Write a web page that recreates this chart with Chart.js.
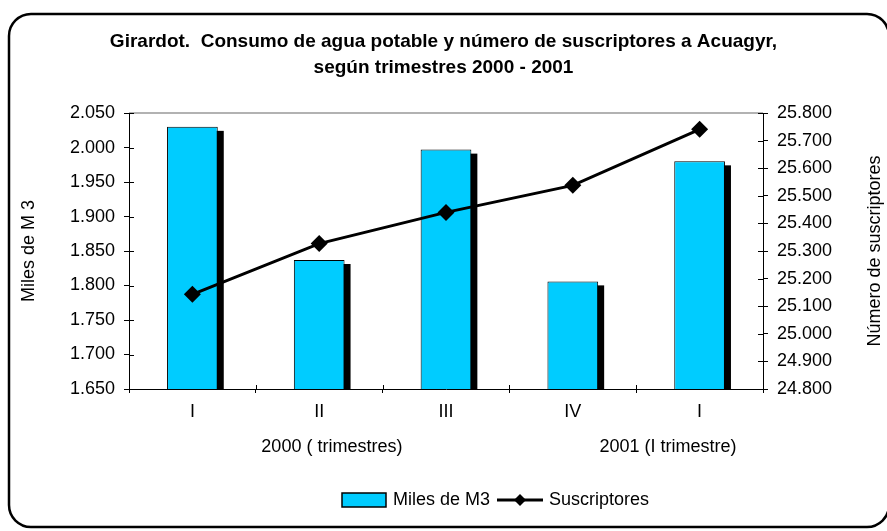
<!DOCTYPE html>
<html>
<head>
<meta charset="utf-8">
<script src="https://cdn.jsdelivr.net/npm/chart.js@4.4.0/dist/chart.umd.min.js"></script>
<style>
  html, body { margin: 0; padding: 0; background: #fff; }
  #marco { width: 887px; height: 531px; }
</style>
</head>
<body>
<div id="marco"><canvas id="grafico"></canvas></div>
<script>
// Datos
const trimestres = ['I', 'II', 'III', 'IV', 'I'];
const milesM3 = [2030, 1837, 1997, 1806, 1980];
const suscriptores = [25143, 25327, 25440, 25538, 25741];
const ticksM3 = [1650, 1700, 1750, 1800, 1850, 1900, 1950, 2000, 2050];
const ticksSusc = [24800, 24900, 25000, 25100, 25200, 25300, 25400, 25500, 25600, 25700, 25800];
const grupos = ['2000 ( trimestres)', '2001 (I trimestre)'];

const FUENTE = "'Liberation Sans', Arial, sans-serif";
const CIAN = '#00CCFF';

// separador de miles con punto: 2050 -> 2.050
const miles = v => String(v).replace(/\B(?=(\d{3})+(?!\d))/g, '.');

// muestras de la leyenda
const cajaM3 = document.createElement('canvas');
cajaM3.width = 46; cajaM3.height = 16;
(() => {
    const c = cajaM3.getContext('2d');
    c.fillStyle = CIAN;
    c.fillRect(1, 1, 44, 14);
    c.strokeStyle = '#000';
    c.lineWidth = 1.5;
    c.strokeRect(1, 1, 44, 14);
})();
const lineaSusc = document.createElement('canvas');
lineaSusc.width = 46; lineaSusc.height = 16;
(() => {
    const c = lineaSusc.getContext('2d');
    c.strokeStyle = '#000';
    c.lineWidth = 3;
    c.beginPath(); c.moveTo(0, 8); c.lineTo(46, 8); c.stroke();
    c.fillStyle = '#000';
    c.beginPath(); c.moveTo(23, 2); c.lineTo(29, 8); c.lineTo(23, 14); c.lineTo(17, 8); c.closePath(); c.fill();
})();

// marco redondeado (el borde derecho queda fuera del lienzo)
const marco = {
    id: 'marco',
    beforeDraw(chart) {
        const ctx = chart.ctx;
        ctx.save();
        ctx.fillStyle = '#fff';
        ctx.fillRect(0, 0, chart.width, chart.height);
        const x = 9, y = 14, w = 880, h = 513, r = 22;
        ctx.beginPath();
        ctx.moveTo(x + r, y);
        ctx.arcTo(x + w, y, x + w, y + h, r);
        ctx.arcTo(x + w, y + h, x, y + h, r);
        ctx.arcTo(x, y + h, x, y, r);
        ctx.arcTo(x, y, x + w, y, r);
        ctx.closePath();
        ctx.lineWidth = 2.5;
        ctx.strokeStyle = '#000';
        ctx.stroke();
        ctx.restore();
    }
};

// sombra negra detrás de cada barra
const sombra = {
    id: 'sombra',
    beforeDatasetDraw(chart, args) {
        if (args.meta.type !== 'bar') return;
        const ctx = chart.ctx;
        const base = chart.chartArea.bottom;
        ctx.save();
        ctx.fillStyle = '#000';
        args.meta.data.forEach(b => {
            const p = b.getProps(['x', 'y', 'width'], true);
            ctx.fillRect(p.x - p.width / 2 + 6, p.y + 4, p.width, base - p.y - 4);
        });
        ctx.restore();
    }
};

// la leyenda está algo desplazada a la derecha
const leyendaDerecha = {
    id: 'leyendaDerecha',
    afterLayout(chart) {
        chart.legend.left += 53;
        chart.legend.right += 53;
    }
};

// títulos de ejes, segunda fila de etiquetas, borde superior y marcas internas
const extras = {
    id: 'extras',
    afterDraw(chart) {
        const ctx = chart.ctx;
        const a = chart.chartArea;
        const sx = chart.scales.x, sy = chart.scales.y, sy2 = chart.scales.y1;
        ctx.save();
        ctx.strokeStyle = '#999';
        ctx.lineWidth = 1.5;
        ctx.beginPath(); ctx.moveTo(a.left, a.top); ctx.lineTo(a.right, a.top); ctx.stroke();

        ctx.strokeStyle = '#000';
        ctx.lineWidth = 1;
        ctx.beginPath();
        sy.ticks.forEach(t => {
            const yy = Math.round(sy.getPixelForValue(t.value)) + 0.5;
            ctx.moveTo(a.left, yy); ctx.lineTo(a.left + 5, yy);
        });
        sy2.ticks.forEach(t => {
            const yy = Math.round(sy2.getPixelForValue(t.value)) + 0.5;
            ctx.moveTo(a.right - 5, yy); ctx.lineTo(a.right, yy);
        });
        const paso = (a.right - a.left) / trimestres.length;
        for (let i = 0; i <= trimestres.length; i++) {
            const xx = Math.round(a.left + i * paso) + 0.5;
            ctx.moveTo(xx, a.bottom - 4); ctx.lineTo(xx, a.bottom);
        }
        ctx.stroke();

        ctx.fillStyle = '#000';
        ctx.font = '18px ' + FUENTE;
        ctx.textAlign = 'center';
        ctx.textBaseline = 'middle';
        // segunda fila bajo el eje x
        const x0 = sx.getPixelForValue(0), x1 = sx.getPixelForValue(1);
        ctx.fillText(grupos[0], x0 + 1.1 * (x1 - x0), 447);
        ctx.fillText(grupos[1], x0 + 3.75 * (x1 - x0), 447);

        ctx.save();
        ctx.translate(29, (a.top + a.bottom) / 2);
        ctx.rotate(-Math.PI / 2);
        ctx.fillText('Miles de M 3', 0, 0);
        ctx.restore();
        ctx.save();
        ctx.translate(875, (a.top + a.bottom) / 2);
        ctx.rotate(-Math.PI / 2);
        ctx.fillText('Número de suscriptores', 0, 0);
        ctx.restore();
        ctx.restore();
    }
};

new Chart(document.getElementById('grafico'), {
    data: {
        labels: trimestres,
        datasets: [
            {
                type: 'bar',
                label: 'Miles de M3',
                data: milesM3,
                yAxisID: 'y',
                backgroundColor: CIAN,
                borderColor: '#000',
                borderWidth: 1,
                barPercentage: 0.8,
                categoryPercentage: 0.5,
                order: 2
            },
            {
                type: 'line',
                label: 'Suscriptores',
                data: suscriptores,
                yAxisID: 'y1',
                borderColor: '#000',
                borderWidth: 3,
                pointStyle: 'rectRot',
                pointRadius: 8.5,
                pointBackgroundColor: '#000',
                pointBorderWidth: 0,
                tension: 0,
                order: 1
            }
        ]
    },
    options: {
        responsive: true,
        maintainAspectRatio: false,
        animation: false,
        layout: { padding: { left: 0, right: 0, top: 0, bottom: 12 } },
        plugins: {
            tooltip: { enabled: false },
            title: {
                display: true,
                text: ['Girardot.  Consumo de agua potable y número de suscriptores a Acuagyr,',
                       'según trimestres 2000 - 2001'],
                color: '#000',
                font: { family: FUENTE, size: 19, weight: 'bold', lineHeight: 1.37 },
                padding: { top: 29, bottom: 32 }
            },
            legend: {
                position: 'bottom',
                labels: {
                    color: '#000',
                    font: { family: FUENTE, size: 18 },
                    usePointStyle: true,
                    pointStyleWidth: 40,
                    padding: 10,
                    generateLabels: () => [
                        { text: 'Miles de M3', pointStyle: cajaM3, datasetIndex: 0, fontColor: '#000', lineWidth: 0 },
                        { text: 'Suscriptores', pointStyle: lineaSusc, datasetIndex: 1, fontColor: '#000', lineWidth: 0 }
                    ]
                }
            }
        },
        scales: {
            x: {
                offset: true,
                grid: { display: true, offset: true, drawOnChartArea: false, color: '#000', tickLength: 4 },
                border: { color: '#000', width: 1 },
                ticks: { color: '#000', font: { family: FUENTE, size: 18 }, padding: 8, maxRotation: 0 },
                afterFit: s => { s.height = 92; }
            },
            y: {
                position: 'left',
                min: ticksM3[0],
                max: ticksM3[ticksM3.length - 1],
                afterBuildTicks: s => { s.ticks = ticksM3.map(v => ({ value: v })); },
                grid: { drawOnChartArea: false, color: '#000', tickLength: 5 },
                border: { color: '#000', width: 1 },
                ticks: { color: '#000', font: { family: FUENTE, size: 18 }, padding: 9, callback: v => miles(v) },
                afterFit: s => { s.width = 129; }
            },
            y1: {
                position: 'right',
                min: ticksSusc[0],
                max: ticksSusc[ticksSusc.length - 1],
                afterBuildTicks: s => { s.ticks = ticksSusc.map(v => ({ value: v })); },
                grid: { drawOnChartArea: false, color: '#000', tickLength: 5 },
                border: { color: '#000', width: 1 },
                ticks: { color: '#000', font: { family: FUENTE, size: 18 }, padding: 9, callback: v => miles(v) },
                afterFit: s => { s.width = 124; }
            }
        }
    },
    plugins: [marco, sombra, leyendaDerecha, extras]
});
</script>
</body>
</html>
